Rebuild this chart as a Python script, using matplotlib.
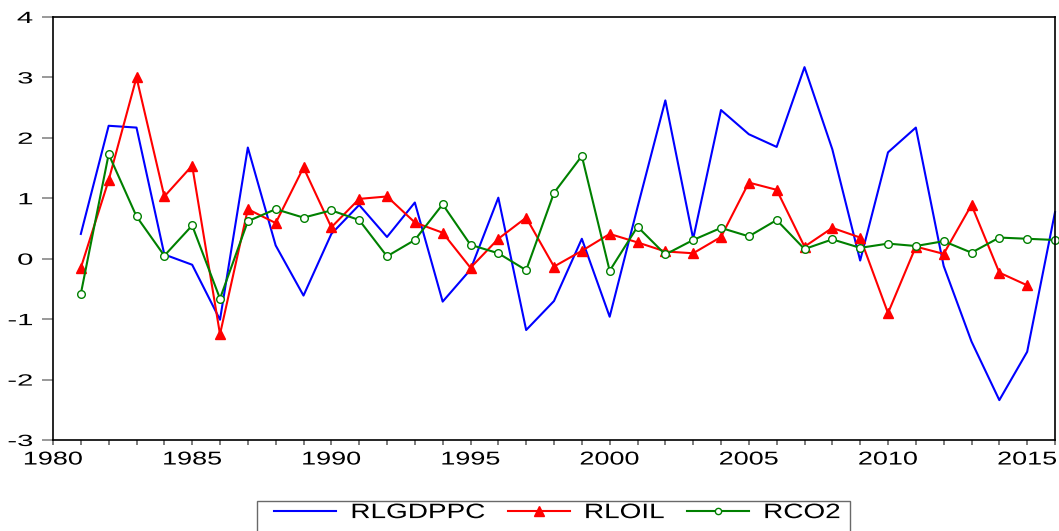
import matplotlib
matplotlib.use("Agg")
import matplotlib.pyplot as plt
from matplotlib.ticker import MultipleLocator
from matplotlib.patheffects import AbstractPathEffect
from matplotlib.transforms import Affine2D
from matplotlib.offsetbox import DrawingArea
from matplotlib.textpath import TextPath
from matplotlib.font_manager import FontProperties

plt.rcParams['font.family'] = ['Liberation Sans', 'DejaVu Sans']
plt.rcParams['axes.unicode_minus'] = False

years_gdp = list(range(1981, 2017))
rlgdppc = [0.41, 2.20, 2.17, 0.07, -0.10, -1.01, 1.84, 0.22, -0.61, 0.41,
           0.89, 0.36, 0.93, -0.71, -0.18, 1.01, -1.18, -0.70, 0.33, -0.96,
           0.85, 2.62, 0.33, 2.46, 2.06, 1.85, 3.17, 1.81, -0.03, 1.76,
           2.17, -0.12, -1.37, -2.34, -1.54, 0.77]

years_oil = list(range(1981, 2016))
rloil = [-0.15, 1.30, 3.00, 1.03, 1.54, -1.25, 0.82, 0.59, 1.51, 0.52,
         0.99, 1.03, 0.60, 0.43, -0.15, 0.33, 0.68, -0.13, 0.13, 0.41,
         0.27, 0.12, 0.09, 0.36, 1.26, 1.14, 0.20, 0.51, 0.35, -0.90,
         0.20, 0.08, 0.89, -0.23, -0.44]

years_co2 = list(range(1981, 2017))
rco2 = [-0.58, 1.73, 0.70, 0.05, 0.55, -0.66, 0.62, 0.82, 0.68, 0.80,
        0.64, 0.04, 0.31, 0.90, 0.23, 0.09, -0.19, 1.09, 1.70, -0.20,
        0.53, 0.07, 0.31, 0.51, 0.37, 0.64, 0.16, 0.32, 0.18, 0.25,
        0.21, 0.29, 0.10, 0.35, 0.33, 0.31]

series_labels = ['RLGDPPC', 'RLOIL', 'RCO2']


class Stretch(AbstractPathEffect):
    """Widen drawn text horizontally (the reference text is wide)."""
    def __init__(self, sx, anchor='center'):
        super().__init__()
        self.sx = sx
        self.anchor = anchor

    def draw_path(self, renderer, gc, tpath, affine, rgbFace=None):
        ext = tpath.get_extents(affine)
        if self.anchor == 'right':
            cx = ext.x1
        elif self.anchor == 'left':
            cx = ext.x0
        else:
            cx = 0.5 * (ext.x0 + ext.x1)
        t = affine + Affine2D().translate(-cx, 0).scale(self.sx, 1).translate(cx, 0)
        renderer.draw_path(gc, tpath, t, rgbFace)


fig = plt.figure(figsize=(10.59, 5.31), dpi=100)
ax = fig.add_axes([53 / 1059, 1 - 440 / 531, (1055 - 53) / 1059, (440 - 17) / 531])

ax.plot(years_gdp, rlgdppc, color='#0000FF', lw=1.5, label=series_labels[0], clip_on=False)
ax.plot(years_oil, rloil, color='#FF0000', lw=1.5, marker='^', markersize=7.5,
        markeredgecolor='#FF0000', markerfacecolor='#FF0000', label=series_labels[1])
ax.plot(years_co2, rco2, color='#008000', lw=1.5, marker='o', markersize=5.5,
        markerfacecolor='white', markeredgecolor='#008000', markeredgewidth=1.0,
        label=series_labels[2], clip_on=False)

ax.set_xlim(1980, 2016)
ax.set_ylim(-3, 4)
ax.xaxis.set_major_locator(MultipleLocator(5))
ax.xaxis.set_minor_locator(MultipleLocator(1))
ax.yaxis.set_major_locator(MultipleLocator(1))

ax.tick_params(axis='y', direction='out', length=8, width=1.2, color='#888888',
               labelsize=11.7, pad=6.5)
ax.tick_params(axis='x', which='both', direction='out', length=3.6, width=1.2,
               color='#666666', labelsize=13.4, pad=4.7)
for s in ax.spines.values():
    s.set_linewidth(1.2)
    s.set_color('black')

# Legend
LFS = 15
leg = fig.legend(loc='upper left', bbox_to_anchor=(257 / 1059, 1 - 501 / 531),
                 borderaxespad=0, ncol=3, frameon=True, fancybox=False,
                 edgecolor='#444444', fontsize=LFS, handlelength=2.97,
                 columnspacing=1.07, handletextpad=0.72, borderpad=0.1)
leg.get_frame().set_linewidth(1.0)
leg.legend_handles[2].set_markersize(4.5)

LSX = 1.34
sep_pt = 0.72 * LFS
prop = FontProperties(family=['Liberation Sans'], size=LFS)
handle_box = leg._legend_box.get_children()[1]
items = [it for col in handle_box.get_children() for it in col.get_children()]
for k, (it, txt) in enumerate(zip(items, leg.get_texts())):
    txt.set_path_effects([Stretch(LSX, 'left')])
    w = TextPath((0, 0), txt.get_text(), prop=prop).get_extents().width
    extra = max((LSX - 1) * w - sep_pt, 0)
    if k == len(items) - 1:
        extra += 5.7
    it.get_children().append(DrawingArea(extra, 1, 0, 9))
    if k == 0:
        it.get_children().insert(0, DrawingArea(0, 1))

fig.canvas.draw()
for lbl in ax.get_xticklabels():
    lbl.set_path_effects([Stretch(1.45, 'center')])
for lbl in ax.get_yticklabels():
    lbl.set_path_effects([Stretch(1.8, 'right')])

fig.savefig('out.png', dpi=100)
